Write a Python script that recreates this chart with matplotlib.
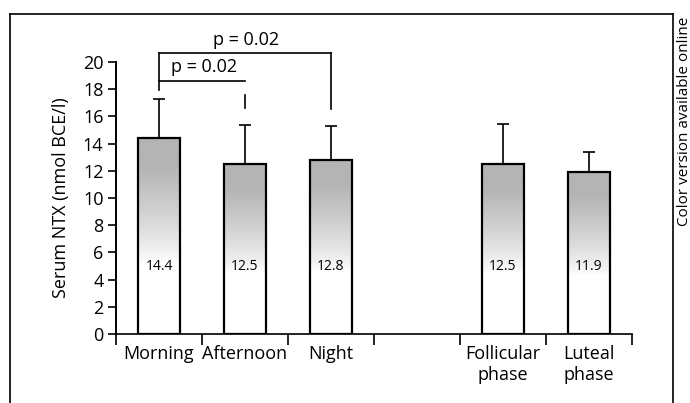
import numpy as np
import matplotlib
matplotlib.use("Agg")
import matplotlib.pyplot as plt
from matplotlib.lines import Line2D
from matplotlib.colors import LinearSegmentedColormap

plt.rcParams['font.family'] = ['Open Sans', 'DejaVu Sans']

categories = ["Morning", "Afternoon", "Night", "Follicular\nphase", "Luteal\nphase"]
means = [14.4, 12.5, 12.8, 12.5, 11.9]
sds = [2.9, 2.85, 2.5, 2.95, 1.5]
value_labels = ["14.4", "12.5", "12.8", "12.5", "11.9"]
yticks = [0, 2, 4, 6, 8, 10, 12, 14, 16, 18, 20]
p_labels = ["p = 0.02", "p = 0.02"]

xpos = [0, 1, 2, 4, 5]
bar_w = 0.48
FS = 13

fig = plt.figure(figsize=(6.9, 4.03), dpi=100)
ax = fig.add_axes([116/690, 1-334/403, (632-116)/690, (334-62)/403])
ax.set_xlim(-0.5, 5.5)
ax.set_ylim(0, 20)

cmap = LinearSegmentedColormap.from_list("g", ["white", "#b4b4b4"])
grad = np.linspace(0, 1, 256)
for x, m in zip(xpos, means):
    f = np.clip((grad - 0.36) / 0.5, 0, 1) ** 0.8
    img = f[:, None]
    bars = ax.bar(x, m, width=bar_w, color='none', edgecolor='black', linewidth=1.6, zorder=3)
    im = ax.imshow(img, cmap=cmap, vmin=0, vmax=1, origin='lower', aspect='auto',
                   extent=(x - bar_w/2, x + bar_w/2, 0, m), zorder=2)
    im.set_clip_path(bars[0])

ax.errorbar(xpos, means, yerr=[np.zeros(len(sds)), sds], fmt='none', ecolor='black',
            elinewidth=1.2, capsize=4, capthick=1.2, zorder=4)

for x, lab in zip(xpos, value_labels):
    ax.text(x, 4.95, lab, ha='center', va='center', fontsize=10, fontweight='medium', zorder=5)

ax.set_yticks(yticks)
ax.set_yticklabels([str(t) for t in yticks], fontsize=FS)
ax.set_xticks(np.arange(-0.5, 5.6, 1.0))
ax.set_xticklabels([])
ax.tick_params(axis='y', direction='out', length=6, width=1.2, pad=3)
ax.tick_params(axis='x', direction='out', length=8, width=1.2)
for x, c in zip(xpos, categories):
    ax.text(x, -0.8, c, ha='center', va='top', fontsize=FS, linespacing=1.2,
            transform=ax.transData, clip_on=False)

for s in ['top', 'right']:
    ax.spines[s].set_visible(False)
ax.spines['left'].set_linewidth(1.4)
ax.spines['bottom'].set_linewidth(1.2)
ax.set_ylabel("Serum NTX (nmol BCE/l)", fontsize=FS, labelpad=9)

# significance brackets
kw = dict(color='black', linewidth=1.2, clip_on=False)
ax.plot([0, 0], [17.94, 20.66], **kw)
ax.plot([0, 1], [18.6, 18.6], **kw)
ax.plot([1, 1], [16.6, 17.57], **kw)
ax.plot([0, 2], [20.66, 20.66], **kw)
ax.plot([2, 2], [16.54, 20.66], **kw)
ax.text(0.52, 18.95, p_labels[0], ha='center', va='bottom', fontsize=FS, clip_on=False)
ax.text(1.01, 20.95, p_labels[1], ha='center', va='bottom', fontsize=FS, clip_on=False)

# frame
W, H = 690, 403
fl = dict(color='black', linewidth=1.2, transform=fig.transFigure)
fig.add_artist(Line2D([10/W, 10/W], [0, 1-14/H], **fl))
fig.add_artist(Line2D([10/W, 673/W], [1-14/H, 1-14/H], **fl))
fig.add_artist(Line2D([673/W, 673/W], [0, 1-14/H], **fl))

fig.text(684/W, 1-17/H, "Color version available online", rotation=90,
         ha='center', va='top', fontsize=11)

fig.savefig("out.png", dpi=100)
